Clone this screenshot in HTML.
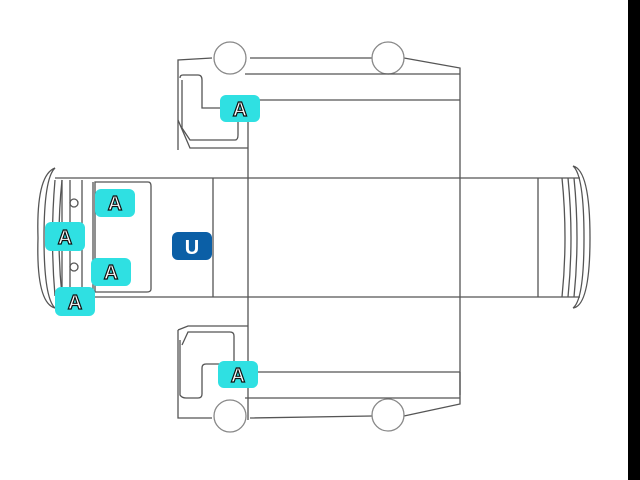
<!DOCTYPE html>
<html><head><style>html,body{margin:0;padding:0;background:#fff;}svg{display:block}
text{font-family:"Liberation Sans",sans-serif;font-weight:bold;}</style></head>
<body>
<svg width="640" height="480" viewBox="0 0 640 480" xmlns="http://www.w3.org/2000/svg">
<rect x="628" y="0" width="12" height="480" fill="#000"/>
<g fill="none" stroke="#555" stroke-width="1.3">
<path d="M178,150 L178,60 L212,58 M250,58 L372,58 M404,58 L460,68 L460,395"/>
<circle cx="230" cy="58" r="16" stroke="#888"/>
<circle cx="388" cy="58" r="16" stroke="#888"/>
<path d="M245,74 L460,74 M258,100 L460,100"/>
<path d="M180,78 Q180,75 183,75 L198,75 Q202,75 202,80 L202,108 L222,108"/>
<path d="M182,80 L182,128 L190,140 L235,140 Q238,140 238,135 L238,120"/>
<path d="M178,120 L190,148 L248,148"/>
<path d="M248,120 L248,420"/>
<path d="M55,178 L580,178 M55,297 L580,297"/>
<path d="M213,178 L213,297 M538,178 L538,297"/>
<path d="M95,182 L148,182 Q151,182 151,186 L151,289 Q151,292 147,292 L95,292 Z"/>
<path d="M62,180 L62,296 M70,180 L70,296 M82,180 L82,296 M93,182 L93,292"/>
<circle cx="74" cy="203" r="4"/>
<circle cx="74" cy="267" r="4"/>
<path d="M55,168 Q36,175 38,238 Q36,303 55,308"/>
<path d="M55,168 Q44,178 44,238 Q44,298 55,308"/>
<path d="M55,180 Q50,238 55,296 M62,180 Q56,238 62,296"/>
<path d="M562,178 Q568,238 562,297 M568,178 Q574,238 568,297 M574,178 Q580,238 574,297"/>
<path d="M573,166 Q590,170 590,238 Q590,306 573,308 M573,166 Q584,175 584,238 Q584,300 573,308"/>
<path d="M178,330 L178,418 L212,418 M250,418 L372,416 M404,416 L460,404 L460,372"/>
<circle cx="230" cy="416" r="16" stroke="#888"/>
<circle cx="388" cy="415" r="16" stroke="#888"/>
<path d="M258,372 L460,372 M245,398 L460,398"/>
<path d="M178,330 L188,326 L248,326"/>
<path d="M182,345 L188,332 L230,332 Q234,332 234,336 L234,365"/>
<path d="M180,340 L180,395 Q182,398 186,398 L198,398 Q202,398 202,394 L202,368 Q202,364 206,364 L220,364"/>
</g>
<g font-size="20" text-anchor="middle">
<g fill="#2fe0e2">
<rect x="220" y="95" width="40" height="27" rx="6"/>
<rect x="95" y="189" width="40" height="28" rx="6"/>
<rect x="45" y="222" width="40" height="29" rx="6"/>
<rect x="91" y="258" width="40" height="28" rx="6"/>
<rect x="55" y="287" width="40" height="29" rx="6"/>
<rect x="218" y="361" width="40" height="27" rx="6"/>
</g>
<g fill="#fff" stroke="#111" stroke-width="1.2">
<text x="240" y="116">A</text>
<text x="115" y="210">A</text>
<text x="65" y="244">A</text>
<text x="111" y="279">A</text>
<text x="75" y="309">A</text>
<text x="238" y="382">A</text>
</g>
<rect x="172" y="232" width="40" height="28" rx="6" fill="#0b5fa6"/>
<text x="192" y="254" fill="#fff" font-size="20">U</text>
</g>
</svg>
</body></html>
